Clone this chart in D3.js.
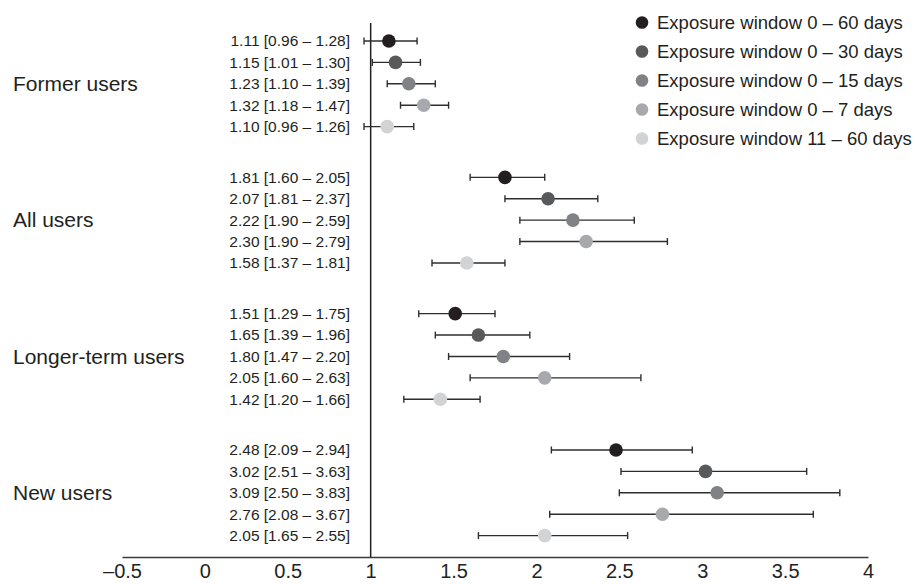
<!DOCTYPE html>
<html>
  <head>
    <script src="https://d3js.org/d3.v7.min.js"></script>
    <style>
      body { margin: 0; background: #fff; }
      text { font-family: "Liberation Sans", Arial, sans-serif; fill: #231f20; }
    </style>
  </head>
  <body>
    <div id="graph"></div>
    <script>

var w = 915;
var h = 584;

// data
var groups = ["Former users", "All users", "Longer-term users", "New users"];
var windows = ["Exposure window 0 \u2013 60 days", "Exposure window 0 \u2013 30 days",
  "Exposure window 0 \u2013 15 days", "Exposure window 0 \u2013 7 days",
  "Exposure window 11 \u2013 60 days"];
var colors = ["#231f20", "#58595b", "#808285", "#a7a9ac", "#d1d3d4"];

var formerUsers = [[1.11, 0.96, 1.28], [1.15, 1.01, 1.30], [1.23, 1.10, 1.39], [1.32, 1.18, 1.47], [1.10, 0.96, 1.26]];
var allUsers = [[1.81, 1.60, 2.05], [2.07, 1.81, 2.37], [2.22, 1.90, 2.59], [2.30, 1.90, 2.79], [1.58, 1.37, 1.81]];
var longerTermUsers = [[1.51, 1.29, 1.75], [1.65, 1.39, 1.96], [1.80, 1.47, 2.20], [2.05, 1.60, 2.63], [1.42, 1.20, 1.66]];
var newUsers = [[2.48, 2.09, 2.94], [3.02, 2.51, 3.63], [3.09, 2.50, 3.83], [2.76, 2.08, 3.67], [2.05, 1.65, 2.55]];
var xTicks = [-0.5, 0, 0.5, 1, 1.5, 2, 2.5, 3, 3.5, 4];

var seriesByGroup = [formerUsers, allUsers, longerTermUsers, newUsers];

// flatten into rows
var rows = [];
seriesByGroup.forEach(function(list, g) {
  list.forEach(function(d, i) {
    rows.push({group: groups[g], win: i, est: d[0], lo: d[1], hi: d[2]});
  });
});

var svg = d3.select("#graph")
  .append("svg")
  .attr("width", w)
  .attr("height", h);

var xScale = d3.scaleLinear()
  .domain([-0.5, 4])
  .range([122, 868]);

var groupScale = d3.scalePoint()
  .domain(groups)
  .range([41, 450]);

var rowScale = d3.scaleLinear()
  .domain([0, 4])
  .range([0, 85.6]);

function yPos(d) {
  return groupScale(d.group) + rowScale(d.win);
}

function fmt(v) {
  return v.toFixed(2);
}

// x axis
var axis = svg.append("g")
  .attr("transform", "translate(0,557)")
  .call(d3.axisBottom(xScale)
    .tickValues(xTicks)
    .tickSize(0)
    .tickPadding(7)
    .tickFormat(function(d) { return d < 0 ? "\u2013" + Math.abs(d) : d; }));
axis.select(".domain")
  .attr("stroke", "#3a3a3a")
  .attr("stroke-width", 1.5);
axis.selectAll("text")
  .attr("font-size", "20px")
  .attr("fill", "#231f20")
  .attr("font-family", "'Liberation Sans', Arial, sans-serif");

// reference line at 1
svg.append("line")
  .attr("x1", xScale(1))
  .attr("x2", xScale(1))
  .attr("y1", 23)
  .attr("y2", 557)
  .attr("stroke", "#231f20")
  .attr("stroke-width", 1.5);

// error bars
var bars = svg.append("g").selectAll("g")
  .data(rows)
  .enter()
  .append("g")
  .attr("stroke", "#2e2e2e")
  .attr("stroke-width", 1.4);

bars.append("line")
  .attr("x1", function(d) { return xScale(d.lo); })
  .attr("x2", function(d) { return xScale(d.hi); })
  .attr("y1", yPos)
  .attr("y2", yPos);
bars.append("line")
  .attr("x1", function(d) { return xScale(d.lo); })
  .attr("x2", function(d) { return xScale(d.lo); })
  .attr("y1", function(d) { return yPos(d) - 3.5; })
  .attr("y2", function(d) { return yPos(d) + 3.5; });
bars.append("line")
  .attr("x1", function(d) { return xScale(d.hi); })
  .attr("x2", function(d) { return xScale(d.hi); })
  .attr("y1", function(d) { return yPos(d) - 3.5; })
  .attr("y2", function(d) { return yPos(d) + 3.5; });

// points
svg.append("g").selectAll("circle")
  .data(rows)
  .enter()
  .append("circle")
  .attr("cx", function(d) { return xScale(d.est); })
  .attr("cy", yPos)
  .attr("r", 6.8)
  .attr("fill", function(d) { return colors[d.win]; });

// value labels
svg.append("g").selectAll("text")
  .data(rows)
  .enter()
  .append("text")
  .attr("x", 350)
  .attr("y", yPos)
  .attr("dy", "0.35em")
  .attr("text-anchor", "end")
  .attr("font-size", "15.5px")
  .text(function(d) { return fmt(d.est) + " [" + fmt(d.lo) + " \u2013 " + fmt(d.hi) + "]"; });

// group labels
svg.append("g").selectAll("text")
  .data(groups)
  .enter()
  .append("text")
  .attr("x", 13)
  .attr("y", function(d) { return groupScale(d) + rowScale(2); })
  .attr("dy", "0.35em")
  .attr("font-size", "21px")
  .text(function(d) { return d; });

// legend
var legend = svg.append("g").selectAll("g")
  .data(windows)
  .enter()
  .append("g")
  .attr("transform", function(d, i) { return "translate(642," + (22.5 + i * 29) + ")"; });
legend.append("circle")
  .attr("r", 6.3)
  .attr("fill", function(d, i) { return colors[i]; });
legend.append("text")
  .attr("x", 15)
  .attr("dy", "0.35em")
  .attr("font-size", "18.5px")
  .text(function(d) { return d; });

    </script>
  </body>
</html>
